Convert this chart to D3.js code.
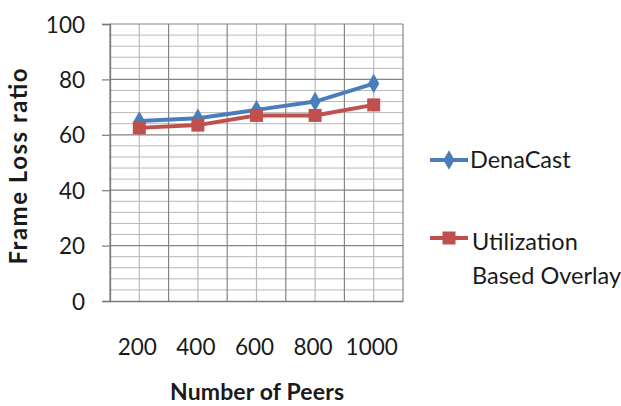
<!DOCTYPE html>
<html>
<head>
<meta charset="utf-8">
<script src="https://cdn.jsdelivr.net/npm/d3@7"></script>
<style>
  html, body { margin: 0; padding: 0; background: #fff; }
  svg { display: block; }
  text { font-family: Lato, "Open Sans", sans-serif; fill: #1a1a1a; }
</style>
</head>
<body>
<svg id="chart" width="621" height="406"></svg>
<script>
// Frame loss ratio vs. number of peers
const categories = ["200", "400", "600", "800", "1000"];
const denaCast = [65, 66, 69, 72, 78.5];
const utilizationOverlay = [62.5, 63.5, 67, 67, 70.8];
const yTicks = [0, 20, 40, 60, 80, 100];
const seriesNames = ["DenaCast", "Utilization Based Overlay"];

const svg = d3.select("#chart");
const plot = { left: 110, right: 403, top: 24, bottom: 301 };

const x = d3.scaleBand().domain(categories).range([plot.left, plot.right]).padding(0);
const y = d3.scaleLinear().domain([0, 100]).range([plot.bottom, plot.top]);
const cx = d => x(d) + x.bandwidth() / 2;

// Gridlines: minor every 4 units, major every 20
const minorY = d3.range(4, 100, 4).filter(v => v % 20 !== 0);
svg.append("g").selectAll("line").data(minorY).join("line")
  .attr("x1", plot.left).attr("x2", plot.right)
  .attr("y1", d => y(d)).attr("y2", d => y(d))
  .attr("stroke", "#b8b8b8").attr("stroke-width", 1);
svg.append("g").selectAll("line").data(categories).join("line")
  .attr("x1", d => cx(d)).attr("x2", d => cx(d))
  .attr("y1", plot.top).attr("y2", plot.bottom)
  .attr("stroke", "#b8b8b8").attr("stroke-width", 1.2);
svg.append("g").selectAll("line").data(yTicks.slice(1)).join("line")
  .attr("x1", plot.left).attr("x2", plot.right)
  .attr("y1", d => y(d)).attr("y2", d => y(d))
  .attr("stroke", "#858585").attr("stroke-width", 1.2);
const bounds = categories.map(c => x(c) + x.bandwidth()).concat([x(categories[0])]);
svg.append("g").selectAll("line").data(bounds).join("line")
  .attr("x1", d => d).attr("x2", d => d)
  .attr("y1", plot.top).attr("y2", plot.bottom)
  .attr("stroke", "#858585").attr("stroke-width", 1.2);

// Y axis
const yAxis = svg.append("g").attr("transform", `translate(${plot.left},0)`)
  .call(d3.axisLeft(y).tickValues(yTicks).tickSize(8).tickPadding(17));
yAxis.select(".domain").attr("stroke", "#7a7a7a").attr("stroke-width", 1.3);
yAxis.selectAll(".tick line").attr("stroke", "#7a7a7a").attr("stroke-width", 1.2);
yAxis.selectAll(".tick text").style("font-size", "22.5px").attr("fill", "#1a1a1a")
  .attr("dy", "0.36em");

// X axis
const xAxis = svg.append("g").attr("transform", `translate(0,${plot.bottom})`)
  .call(d3.axisBottom(x).tickSize(0).tickPadding(38));
xAxis.select(".domain").attr("stroke", "#7a7a7a").attr("stroke-width", 1.3);
xAxis.selectAll(".tick text").style("font-size", "22.5px").attr("fill", "#1a1a1a")
  .attr("dx", "-2");

// Axis titles
svg.append("text")
  .attr("transform", `translate(27,${(plot.top + plot.bottom) / 2 + 4}) rotate(-90)`)
  .attr("text-anchor", "middle")
  .attr("textLength", 196).attr("lengthAdjust", "spacing")
  .style("font-size", "24px").style("font-weight", "bold")
  .text("Frame Loss ratio");
svg.append("text")
  .attr("x", 257).attr("y", 400)
  .attr("text-anchor", "middle")
  .attr("textLength", 174).attr("lengthAdjust", "spacing")
  .style("font-size", "23px").style("font-weight", "bold")
  .text("Number of Peers");

// Series
const colors = ["#4a7ebb", "#c0504d"];
const seriesData = [denaCast, utilizationOverlay];
const line = d3.line().x((d, i) => cx(categories[i])).y(d => y(d));
const diamond = d3.symbol().type(d3.symbolDiamond).size(110);

seriesData.forEach((vals, s) => {
  svg.append("path").datum(vals)
    .attr("d", line)
    .attr("fill", "none").attr("stroke", colors[s])
    .attr("stroke-width", 4).attr("stroke-linejoin", "round");
});
svg.append("g").selectAll("path").data(denaCast).join("path")
  .attr("transform", (d, i) => `translate(${cx(categories[i])},${y(d)})`)
  .attr("d", diamond).attr("fill", colors[0]);
svg.append("g").selectAll("rect").data(utilizationOverlay).join("rect")
  .attr("x", (d, i) => cx(categories[i]) - 6.5).attr("y", d => y(d) - 6.5)
  .attr("width", 13).attr("height", 13).attr("fill", colors[1]);

// Legend
const legend = svg.append("g");
const leg1Y = 160, leg2Y = 238, legX1 = 430, legX2 = 468;
legend.append("line").attr("x1", legX1).attr("x2", legX2).attr("y1", leg1Y).attr("y2", leg1Y)
  .attr("stroke", colors[0]).attr("stroke-width", 4);
legend.append("path").attr("transform", `translate(${(legX1 + legX2) / 2},${leg1Y})`)
  .attr("d", diamond).attr("fill", colors[0]);
legend.append("text").attr("x", 470).attr("y", 168).style("font-size", "23.5px")
  .text(seriesNames[0]);
legend.append("line").attr("x1", legX1).attr("x2", legX2).attr("y1", leg2Y).attr("y2", leg2Y)
  .attr("stroke", colors[1]).attr("stroke-width", 4);
legend.append("rect").attr("x", (legX1 + legX2) / 2 - 6.5).attr("y", leg2Y - 6.5)
  .attr("width", 13).attr("height", 13).attr("fill", colors[1]);
const words = seriesNames[1].split(" ");
legend.append("text").attr("x", 472).attr("y", 250).style("font-size", "23.5px")
  .text(words[0]);
legend.append("text").attr("x", 472).attr("y", 284).style("font-size", "23.5px")
  .text(words.slice(1).join(" "));
</script>
</body>
</html>
